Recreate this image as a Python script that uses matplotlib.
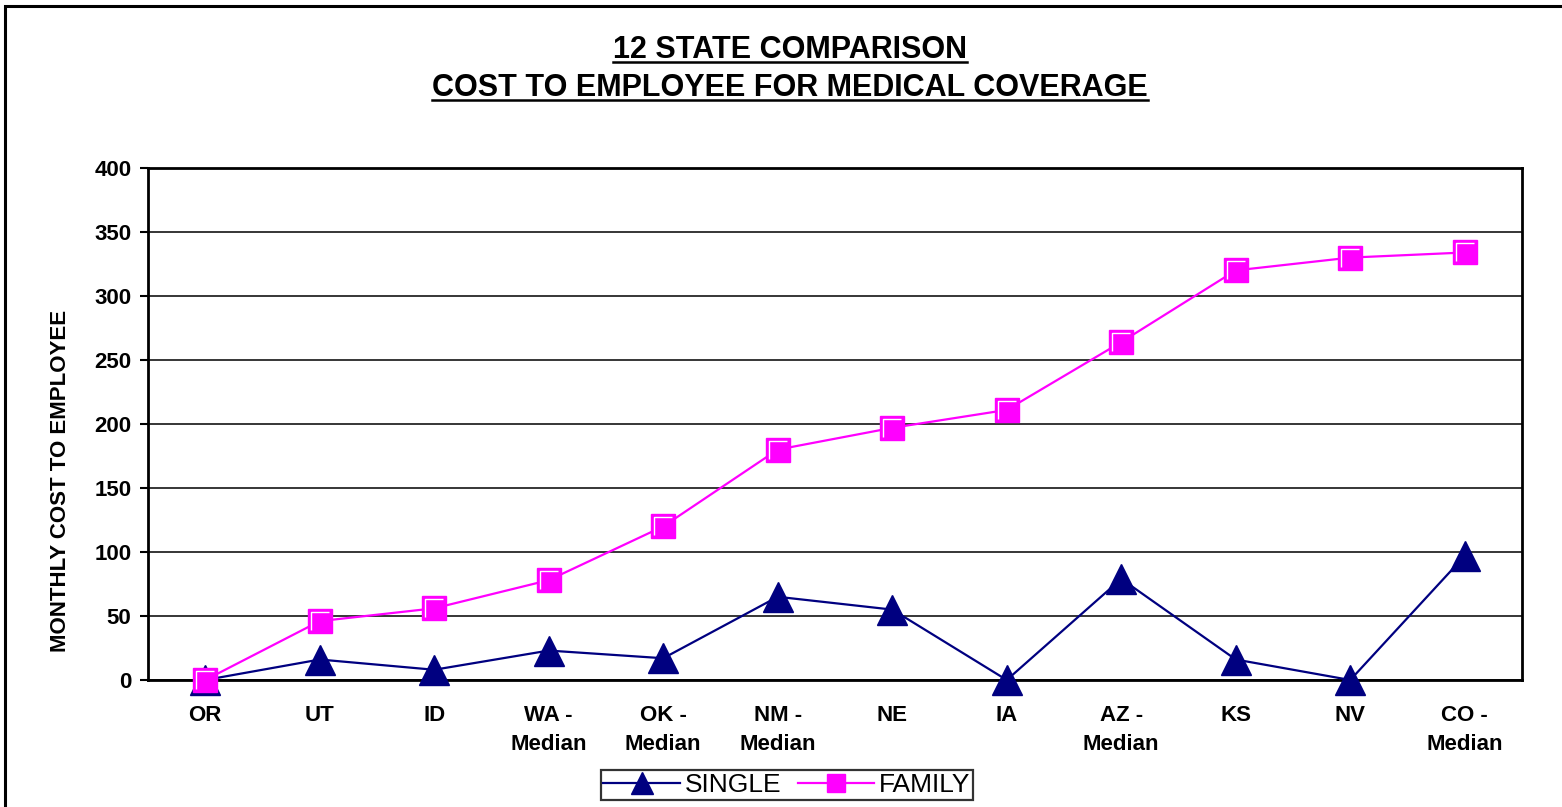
import numpy as np
import matplotlib
matplotlib.use('Agg')
import matplotlib.pyplot as plt
from matplotlib.lines import Line2D
from matplotlib.patches import Rectangle

plt.rcParams['font.family'] = ['Liberation Sans', 'DejaVu Sans']

states = ['OR', 'UT', 'ID', 'WA -\nMedian', 'OK -\nMedian', 'NM -\nMedian',
          'NE', 'IA', 'AZ -\nMedian', 'KS', 'NV', 'CO -\nMedian']
single = [0, 16, 8, 23, 17, 65, 55, 0, 79, 16, 0, 97]
family = [0, 46, 56, 78, 120, 180, 197, 211, 264, 320, 330, 334]
yticks = [0, 50, 100, 150, 200, 250, 300, 350, 400]

W, H = 1562, 807
fig = plt.figure(figsize=(W / 100, H / 100), dpi=100)
ax = fig.add_axes([148 / W, 1 - 680 / H, (1522 - 148) / W, (680 - 168) / H])

x = np.arange(len(states)) + 0.5
l1, = ax.plot(x, single, color='#000080', lw=1.6, marker='^', ms=21,
              mfc='#000080', mec='#000080', zorder=4, clip_on=False)
l2, = ax.plot(x, family, color='#ff00ff', lw=1.6, marker='s', ms=17,
              mfc='#ff00ff', mec='#ff00ff', zorder=5, clip_on=False)
# white highlight along the top and left edge of each square
hl = np.array([[-0.5, -0.5], [-0.5, 0.5], [0.5, 0.5]])
ax.plot(x, family, ls='none', marker=hl, ms=12.5, mfc='none', mec='white',
        mew=1.0, zorder=6, clip_on=False)

ax.set_xlim(0, len(states))
ax.set_ylim(0, 400)
ax.set_yticks(yticks)
ax.set_xticks(x)
ax.set_xticklabels(states, fontsize=16, fontweight='bold', linespacing=1.5,
                   va='top')
ax.tick_params(axis='x', length=0, pad=18)
ax.tick_params(axis='y', length=6, width=1.5, pad=6, labelsize=16)
for lab in ax.get_yticklabels():
    lab.set_fontweight('bold')
ax.yaxis.grid(True, color='black', lw=1.1)
ax.set_axisbelow(True)
for s in ax.spines.values():
    s.set_linewidth(2)

fig.text(61 / W, 1 - 481 / H, 'MONTHLY COST TO EMPLOYEE', rotation=90,
         ha='center', va='center', fontsize=16, fontweight='bold')

t1 = fig.text(790 / W, 1 - 50 / H, '12 STATE COMPARISON', ha='center',
              va='center', fontsize=22, fontweight='bold')
t2 = fig.text(790 / W, 1 - 88 / H, 'COST TO EMPLOYEE FOR MEDICAL COVERAGE',
              ha='center', va='center', fontsize=22, fontweight='bold')

# underline the two title lines
fig.canvas.draw()
r = fig.canvas.get_renderer()
for t in (t1, t2):
    bb = t.get_window_extent(r)
    yl = bb.y0 + 3
    fig.add_artist(Line2D([bb.x0 / W, bb.x1 / W], [yl / H, yl / H],
                          color='black', lw=1.8, transform=fig.transFigure))

# outer chart frame, runs off the right and bottom edges
fig.add_artist(Rectangle((5 / W, -0.1), 1.2, 1.1 - 6 / H, fill=False,
                         ec='black', lw=2.2, transform=fig.transFigure))

leg = fig.legend([l1, l2], ['SINGLE', 'FAMILY'], loc='center',
                 bbox_to_anchor=(787 / W, 1 - 785 / H), ncol=2, fontsize=19,
                 frameon=True, fancybox=False, edgecolor='black',
                 handlelength=2.9, handletextpad=0.2, columnspacing=0.6,
                 borderpad=0.1, markerscale=0.75)
leg.get_frame().set_linewidth(1.6)

fig.savefig('out.png', dpi=100)
